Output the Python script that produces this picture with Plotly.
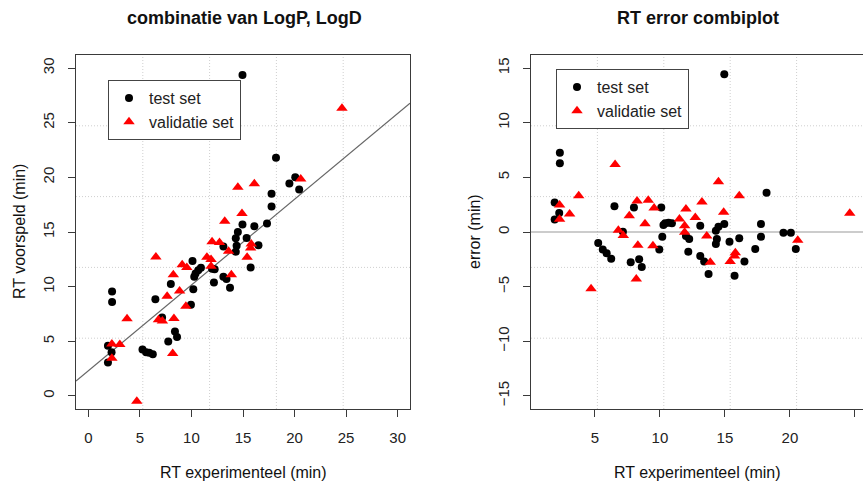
import plotly.graph_objects as go

# Retentietijden (min): experimenteel vs. voorspeld
test_exp = [1.9, 2.25, 1.9, 2.3, 2.3, 5.25, 5.6, 5.9, 6.25, 6.5, 7.15, 7.75, 8.4, 8.6,
            8.0, 9.95, 10.18, 10.1, 10.27, 10.4, 10.66, 10.92, 12.0, 12.25, 12.18, 13.1,
            13.1, 13.4, 13.74, 14.3, 14.5, 14.95, 14.38, 14.3, 14.95, 15.35, 16.1, 16.5,
            15.74, 17.33, 17.77, 17.77, 18.2, 19.5, 20.07, 20.45]
test_pred = [4.6, 4.0, 3.05, 9.55, 8.6, 4.25, 4.0, 3.95, 3.8, 8.85, 7.18, 4.97, 5.9, 5.4,
             10.25, 8.35, 9.75, 12.35, 10.9, 11.2, 11.5, 11.73, 11.63, 11.6, 10.38, 13.68,
             10.9, 10.69, 9.9, 14.42, 14.99, 15.68, 13.74, 13.2, 29.38, 14.46, 15.52, 13.79,
             11.74, 15.77, 18.5, 17.34, 21.8, 19.44, 20.01, 18.9]

val_exp = [2.28, 3.05, 2.28, 3.75, 4.7, 6.55, 6.8, 7.18, 8.18, 8.3, 7.64, 8.24, 8.85, 9.1,
           9.55, 9.46, 11.5, 11.9, 11.9, 12.0, 12.72, 13.23, 13.6, 13.87, 14.5, 14.9, 16.1,
           15.8, 15.74, 15.4, 20.6, 24.6]
val_pred = [4.75, 4.70, 3.44, 7.07, -0.5, 12.72, 6.97, 6.85, 3.88, 7.08, 9.13, 11.08, 9.6,
            12.0, 11.75, 8.21, 12.7, 12.48, 11.87, 14.1, 14.05, 15.98, 13.23, 11.09, 19.1,
            16.7, 19.42, 13.9, 13.54, 12.69, 19.85, 26.32]

# regressielijn (intercept, helling)
fit_intercept = 2.3
fit_slope = 0.785

# error = voorspeld - experimenteel
test_err = [p - e for e, p in zip(test_exp, test_pred)]
val_err = [p - e for e, p in zip(val_exp, val_pred)]

left_ticks = [0, 5, 10, 15, 20, 25, 30]
right_xticks = [5, 10, 15, 20, 25]
right_yticks = [-15, -10, -5, 0, 5, 10, 15]

W, H = 863, 488
FONT = "Liberation Sans, Arial, sans-serif"
AXC = "#3a3a3a"

left_xr = [-1.2, 31.2]
left_yr = [-1.2, 31.2]
right_xr = [0.08, 25.62]
right_yr = [-16.2, 16.2]

fig = go.Figure()

# linker paneel
fig.add_trace(go.Scatter(
    x=left_xr, y=[fit_intercept + fit_slope * v for v in left_xr],
    mode="lines", line=dict(color="#666666", width=1.2),
    xaxis="x", yaxis="y", showlegend=False, hoverinfo="skip"))
fig.add_trace(go.Scatter(
    x=test_exp, y=test_pred, mode="markers", name="test set",
    marker=dict(color="black", size=8, symbol="circle"),
    xaxis="x", yaxis="y", legend="legend"))
fig.add_trace(go.Scatter(
    x=val_exp, y=val_pred, mode="markers", name="validatie set",
    marker=dict(color="#ff0000", size=10, symbol="triangle-up"),
    xaxis="x", yaxis="y", legend="legend"))

# rechter paneel
fig.add_trace(go.Scatter(
    x=right_xr, y=[0, 0], mode="lines", line=dict(color="#9a9a9a", width=1.2),
    xaxis="x2", yaxis="y2", showlegend=False, hoverinfo="skip"))
fig.add_trace(go.Scatter(
    x=test_exp, y=test_err, mode="markers", name="test set",
    marker=dict(color="black", size=8, symbol="circle"),
    xaxis="x2", yaxis="y2", legend="legend2"))
fig.add_trace(go.Scatter(
    x=val_exp, y=val_err, mode="markers", name="validatie set",
    marker=dict(color="#ff0000", size=10, symbol="triangle-up"),
    xaxis="x2", yaxis="y2", legend="legend2"))

ydom = [(H - 409) / H, (H - 55) / H]
axis_common = dict(showgrid=False, zeroline=False, showline=True, linecolor=AXC,
                   linewidth=1, mirror=True, ticks="outside", ticklen=7,
                   tickcolor=AXC, tickwidth=1,
                   tickfont=dict(family=FONT, size=15, color="#222"))

legend_common = dict(xanchor="left", yanchor="top", bgcolor="white",
                     bordercolor="#444", borderwidth=1,
                     font=dict(family=FONT, size=16, color="#222"),
                     tracegroupgap=0, itemwidth=30)

fig.update_layout(
    width=W, height=H, margin=dict(l=0, r=0, t=0, b=0),
    paper_bgcolor="white", plot_bgcolor="white",
    xaxis=dict(domain=[76 / W, 410 / W], range=left_xr, tickvals=left_ticks,
               anchor="y", ticklabelstandoff=8, **axis_common),
    yaxis=dict(domain=ydom, range=left_yr, tickvals=left_ticks, tickangle=-90,
               anchor="x", ticklabelstandoff=8, **axis_common),
    xaxis2=dict(domain=[531 / W, 1.0], range=right_xr, tickvals=right_xticks,
                anchor="y2", ticklabelstandoff=8, **axis_common),
    yaxis2=dict(domain=ydom, range=right_yr, tickvals=right_yticks, tickangle=-90,
                anchor="x2", ticklabelstandoff=8, **axis_common),
    legend=dict(x=108 / W, y=(H - 80) / H, **legend_common),
    legend2=dict(x=556 / W, y=(H - 69) / H, **legend_common),
)

# stippel-raster: 5 gelijke vakken per paneel
grid_line = dict(color="#cfcfcf", width=1, dash="1px,2px")
shapes = []
for xr, yr in (("x domain", "y domain"), ("x2 domain", "y2 domain")):
    for k in range(1, 5):
        f = k / 5
        shapes.append(dict(type="line", xref=xr, yref=yr, x0=f, x1=f, y0=0, y1=1,
                           line=grid_line, layer="below"))
        shapes.append(dict(type="line", xref=xr, yref=yr, x0=0, x1=1, y0=f, y1=f,
                           line=grid_line, layer="below"))
fig.update_layout(shapes=shapes)

titles = [
    dict(text="<b>combinatie van LogP, LogD</b>", x=244 / W, y=(H - 18) / H, size=18, angle=0),
    dict(text="<b>RT error combiplot</b>", x=697.5 / W, y=(H - 18) / H, size=18, angle=0),
    dict(text="RT experimenteel (min)", x=243 / W, y=(H - 472) / H, size=16, angle=0),
    dict(text="RT experimenteel (min)", x=697.5 / W, y=(H - 472) / H, size=16, angle=0),
    dict(text="RT voorspeld (min)", x=19 / W, y=(H - 232) / H, size=16, angle=-90),
    dict(text="error (min)", x=474 / W, y=(H - 232) / H, size=16, angle=-90),
]
fig.update_layout(annotations=[
    dict(text=t["text"], x=t["x"], y=t["y"], xref="paper", yref="paper",
         xanchor="center", yanchor="middle", showarrow=False, textangle=t["angle"],
         font=dict(family=FONT, size=t["size"], color="#111"))
    for t in titles
])

fig.write_html("out.html")
